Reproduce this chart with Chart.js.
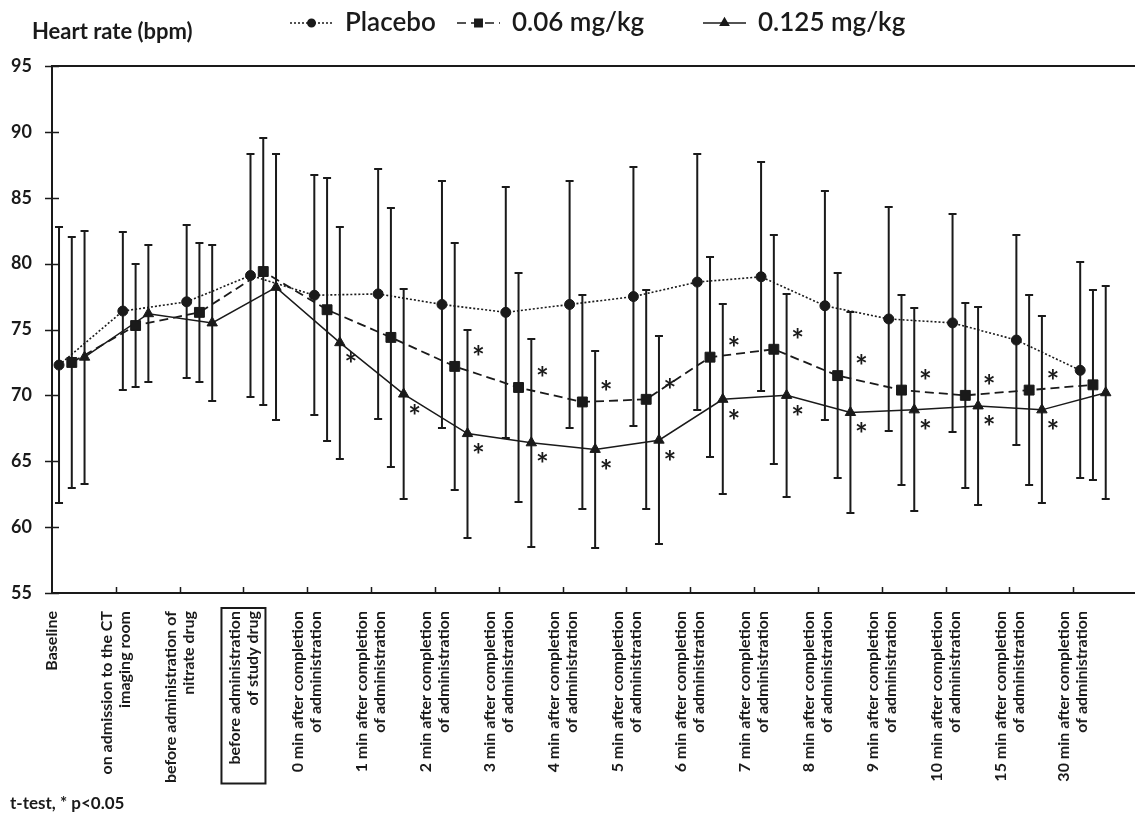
<!DOCTYPE html>
<html>
<head>
<meta charset="utf-8">
<script src="https://cdn.jsdelivr.net/npm/chart.js@4.4.1/dist/chart.umd.min.js"></script>
<style>
  html, body { margin: 0; padding: 0; overflow: hidden; background: #fff; }
  #wrap { width: 1145px; height: 824px; position: relative; }
</style>
</head>
<body>
<div id="wrap"><canvas id="hr"></canvas></div>
<script>
const categories = [
  'Baseline',
  ['on admission to the CT', 'imaging room'],
  ['before administration of', 'nitrate drug'],
  ['before administration', 'of study drug'],
  ['0 min after completion', 'of administration'],
  ['1 min after completion', 'of administration'],
  ['2 min after completion', 'of administration'],
  ['3 min after completion', 'of administration'],
  ['4 min after completion', 'of administration'],
  ['5 min after completion', 'of administration'],
  ['6 min after completion', 'of administration'],
  ['7 min after completion', 'of administration'],
  ['8 min after completion', 'of administration'],
  ['9 min after completion', 'of administration'],
  ['10 min after completion', 'of administration'],
  ['15 min after completion', 'of administration'],
  ['30 min after completion', 'of administration']
];

const placeboMean = [72.3, 76.4, 77.1, 79.1, 77.6, 77.7, 76.9, 76.3, 76.9, 77.5, 78.6, 79.0, 76.8, 75.8, 75.5, 74.2, 71.9];
const placeboSD   = [10.5, 6.0, 5.8, 9.2, 9.1, 9.5, 9.4, 9.5, 9.4, 9.8, 9.7, 8.7, 8.7, 8.5, 8.3, 8.0, 8.2];

const lowMean = [72.5, 75.3, 76.3, 79.4, 76.5, 74.4, 72.2, 70.6, 69.5, 69.7, 72.9, 73.5, 71.5, 70.4, 70.0, 70.4, 70.8];
const lowSD   = [9.5, 4.7, 5.3, 10.1, 10.0, 9.8, 9.4, 8.7, 8.1, 8.3, 7.6, 8.7, 7.8, 7.2, 7.0, 7.2, 7.2];
const lowSig  = [0, 0, 0, 0, 0, 0, 1, 1, 1, 1, 1, 1, 1, 1, 1, 1, 0];

const highMean = [72.9, 76.2, 75.5, 78.2, 74.0, 70.1, 67.1, 66.4, 65.9, 66.6, 69.7, 70.0, 68.7, 68.9, 69.2, 68.9, 70.2];
const highSD   = [9.6, 5.2, 5.9, 10.1, 8.8, 8.0, 7.9, 7.9, 7.5, 7.9, 7.2, 7.7, 7.6, 7.7, 7.5, 7.1, 8.1];
const highSig  = [0, 0, 0, 0, 1, 1, 1, 1, 1, 1, 1, 1, 1, 1, 1, 1, 0];

const yTicks = [55, 60, 65, 70, 75, 80, 85, 90, 95];
const boxedCategory = 3;

const ink = '#1a1a1a';
const FONT = 'Lato, "Open Sans", sans-serif';
const LH = 18;
const legendX = [290, 457, 703];

function pts(means, shift) {
  return means.map((m, i) => ({ x: i + shift, y: m }));
}

function series(label, means, sd, sig, shift, style, radius, dash, width, starDy) {
  return {
    label, data: pts(means, shift), sd, sig, starDy,
    borderColor: ink, borderWidth: width, borderDash: dash,
    pointStyle: style, pointRadius: radius, pointHoverRadius: radius,
    pointBackgroundColor: ink, pointBorderColor: ink, pointBorderWidth: 1,
    showLine: true, fill: false, tension: 0
  };
}

const datasets = [
  series('Placebo', placeboMean, placeboSD, null, 0.11, 'circle', 5, [2, 2], 1.6, 0),
  series('0.06 mg/kg', lowMean, lowSD, lowSig, 0.31, 'rect', 7, [9, 5], 1.8, -16),
  series('0.125 mg/kg', highMean, highSD, highSig, 0.51, 'triangle', 6, [], 1.5, 15)
];

const errorBars = {
  id: 'errorBars',
  beforeDatasetsDraw(chart) {
    const { ctx, scales: { y } } = chart;
    ctx.save();
    ctx.strokeStyle = ink;
    ctx.lineWidth = 2;
    chart.data.datasets.forEach((ds, di) => {
      chart.getDatasetMeta(di).data.forEach((pt, i) => {
        const m = ds.data[i].y, s = ds.sd[i];
        const top = Math.round(y.getPixelForValue(m + s));
        const bot = Math.round(y.getPixelForValue(m - s));
        ctx.beginPath();
        ctx.moveTo(pt.x, top); ctx.lineTo(pt.x, bot);
        ctx.moveTo(pt.x - 4, top); ctx.lineTo(pt.x + 4, top);
        ctx.moveTo(pt.x - 4, bot); ctx.lineTo(pt.x + 4, bot);
        ctx.stroke();
      });
    });
    ctx.restore();
  },
  afterDatasetsDraw(chart) {
    const { ctx, scales: { x } } = chart;
    ctx.save();
    ctx.fillStyle = ink;
    ctx.font = `bold 30px ${FONT}`;
    ctx.textAlign = 'center';
    ctx.textBaseline = 'alphabetic';
    const mt = ctx.measureText('*');
    const mid = (mt.actualBoundingBoxAscent - mt.actualBoundingBoxDescent) / 2;
    chart.data.datasets.forEach((ds, di) => {
      if (!ds.sig) return;
      chart.getDatasetMeta(di).data.forEach((pt, i) => {
        if (!ds.sig[i]) return;
        const sx = x.getPixelForValue(i + 0.51) + 11;
        ctx.fillText('*', sx, pt.y + ds.starDy + mid);
      });
    });
    ctx.restore();
  }
};

const decor = {
  id: 'decor',
  afterDraw(chart) {
    const { ctx, chartArea: a, scales: { x, y } } = chart;
    ctx.save();
    ctx.strokeStyle = ink;
    ctx.fillStyle = ink;

    // tick marks
    ctx.lineWidth = 1.5;
    ctx.beginPath();
    yTicks.forEach(v => {
      const py = Math.round(y.getPixelForValue(v)) + 0.5;
      ctx.moveTo(a.left - 7, py); ctx.lineTo(a.left + 7, py);
    });
    categories.forEach((c, i) => {
      if (i === 0) return;
      const px = Math.round(x.getPixelForValue(i)) + 0.5;
      ctx.moveTo(px, a.bottom); ctx.lineTo(px, a.bottom - 6);
    });
    ctx.stroke();

    // category labels, rotated, each block centred on its tick
    ctx.font = `bold 16px ${FONT}`;
    categories.forEach((lab, i) => {
      const lines = Array.isArray(lab) ? lab : [lab];
      const px = x.getPixelForValue(i);
      ctx.save();
      ctx.translate(px, a.bottom + 18);
      ctx.rotate(-Math.PI / 2);
      ctx.textAlign = 'right';
      ctx.textBaseline = 'middle';
      lines.forEach((ln, k) => ctx.fillText(ln, 0, (k - (lines.length - 1) / 2) * LH));
      ctx.restore();
      if (i === boxedCategory) {
        const w = Math.max(...lines.map(l => ctx.measureText(l).width));
        ctx.lineWidth = 2;
        ctx.strokeRect(px - lines.length * LH / 2 - 4, a.bottom + 15, lines.length * LH + 8, w + 22);
      }
    });

    // axis title
    ctx.font = `bold 22px ${FONT}`;
    ctx.textAlign = 'left';
    ctx.textBaseline = 'middle';
    ctx.fillText('Heart rate (bpm)', 32, 32);

    // legend
    const ly = 23;
    chart.data.datasets.forEach((ds, di) => {
      const lx = legendX[di];
      ctx.save();
      ctx.lineWidth = 1.5;
      ctx.setLineDash(ds.borderDash);
      ctx.beginPath();
      ctx.moveTo(lx, ly); ctx.lineTo(lx + 43, ly);
      ctx.stroke();
      ctx.restore();
      Chart.helpers.drawPoint(ctx, {
        pointStyle: ds.pointStyle, radius: ds.pointRadius * 0.7, borderWidth: 1, rotation: 0
      }, lx + 21.5, ly);
      ctx.fill();
      ctx.font = `600 26px ${FONT}`;
      ctx.textAlign = 'left';
      ctx.textBaseline = 'middle';
      ctx.fillText(ds.label, lx + 55, ly);
    });

    // footnote
    ctx.font = `bold 17px ${FONT}`;
    ctx.textBaseline = 'alphabetic';
    ctx.fillText('t-test, * p<0.05', 10, 809);
    ctx.restore();
  }
};

new Chart(document.getElementById('hr'), {
  type: 'scatter',
  data: { datasets },
  plugins: [errorBars, decor],
  options: {
    responsive: true,
    maintainAspectRatio: false,
    animation: false,
    layout: { padding: { top: 66, left: 0, right: 0, bottom: 31 } },
    plugins: { legend: { display: false }, tooltip: { enabled: false } },
    scales: {
      x: {
        type: 'linear', min: 0, max: 17,
        grid: { display: false },
        border: { display: true, color: ink, width: 2 },
        ticks: { display: false },
        afterFit(s) { s.height = 200; s.paddingLeft = 0; s.paddingRight = 0; }
      },
      y: {
        min: 55, max: 95,
        afterBuildTicks(s) { s.ticks = yTicks.map(v => ({ value: v })); },
        grid: {
          drawTicks: false,
          color: c => (c.tick && c.tick.value === 95) ? ink : 'transparent',
          lineWidth: 2
        },
        border: { display: true, color: ink, width: 2 },
        ticks: { color: ink, padding: 20, font: { family: FONT, size: 18, weight: 'bold' } },
        afterFit(s) { s.width = 52; }
      }
    }
  }
});
</script>
</body>
</html>
